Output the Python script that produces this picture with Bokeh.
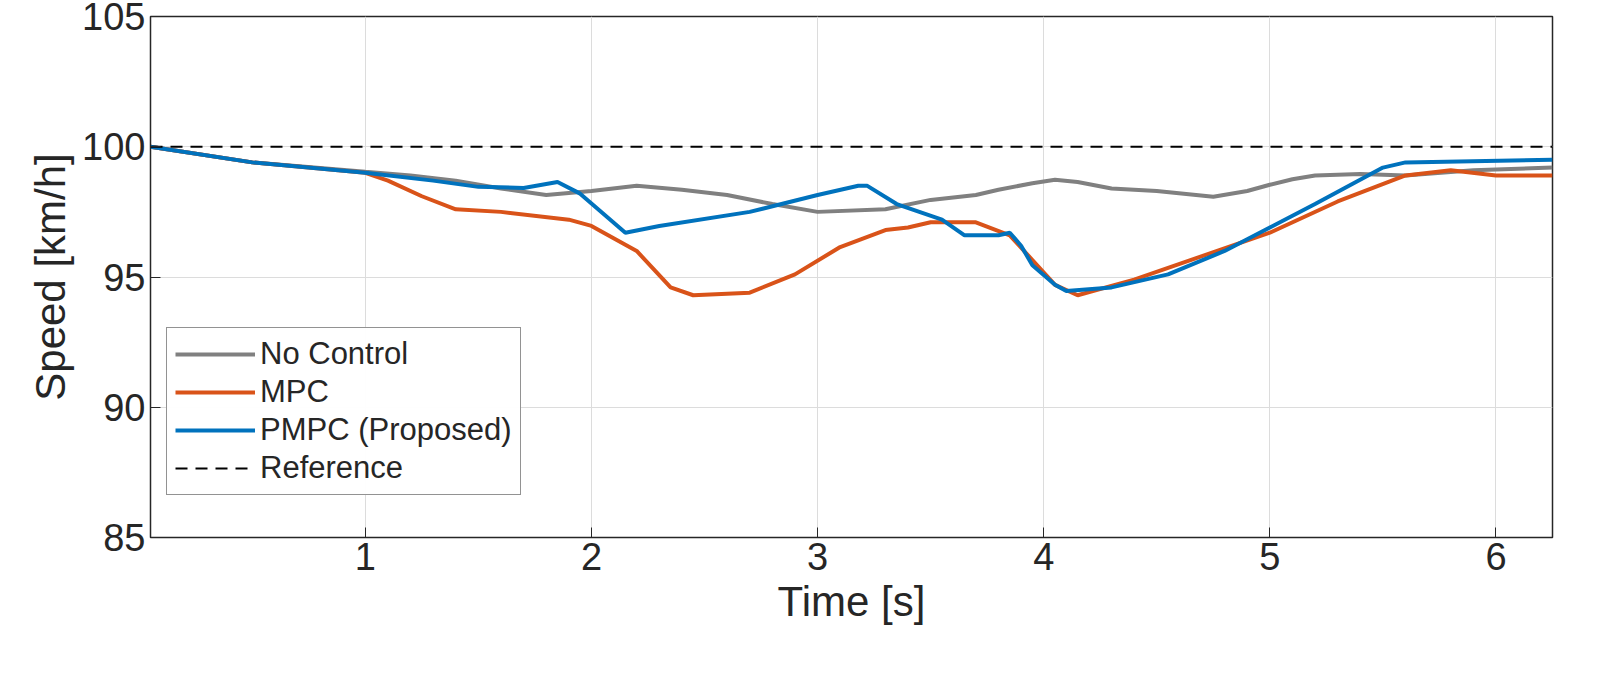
from bokeh.plotting import figure
from bokeh.embed import file_html
from bokeh.resources import INLINE
from bokeh.models import Range1d, Legend, LegendItem, FixedTicker

nc_t = [0.05,0.5,1.0,1.2,1.4,1.6,1.8,2.0,2.2,2.4,2.6,2.8,3.0,3.3,3.5,3.7,3.8,3.95,4.05,4.15,4.3,4.5,4.75,4.9,5.0,5.1,5.2,5.4,5.6,5.9,6.25]
nc_v = [100.0,99.4,99.04,98.9,98.7,98.4,98.15,98.3,98.5,98.35,98.15,97.8,97.5,97.6,97.96,98.15,98.35,98.6,98.73,98.65,98.4,98.3,98.08,98.3,98.54,98.75,98.9,98.95,98.9,99.1,99.2]
mpc_t = [0.05,0.5,1.0,1.1,1.25,1.4,1.6,1.9,2.0,2.2,2.35,2.45,2.7,2.9,3.1,3.3,3.4,3.5,3.7,3.85,3.95,4.05,4.15,4.4,4.7,5.0,5.3,5.6,5.8,6.0,6.25]
mpc_v = [100.0,99.4,99.0,98.7,98.1,97.6,97.5,97.2,96.96,96.0,94.6,94.3,94.4,95.1,96.15,96.8,96.9,97.1,97.1,96.6,95.65,94.7,94.3,94.9,95.8,96.7,97.9,98.9,99.1,98.9,98.9]
pm_t = [0.05,0.5,1.0,1.3,1.5,1.7,1.85,1.95,2.15,2.3,2.7,3.0,3.18,3.22,3.35,3.55,3.65,3.8,3.85,3.9,3.95,4.05,4.1,4.3,4.55,4.8,5.0,5.2,5.35,5.5,5.6,6.25]
pm_v = [100.0,99.4,99.0,98.7,98.46,98.42,98.65,98.2,96.7,96.96,97.5,98.15,98.5,98.5,97.8,97.2,96.6,96.6,96.7,96.2,95.45,94.7,94.46,94.6,95.1,96.0,96.9,97.8,98.5,99.2,99.4,99.5]
ref_t = [0.05, 6.25]
ref_v = [100.0, 100.0]

F = "Liberation Sans"
p = figure(width=1570, height=668, output_backend="svg", toolbar_location=None,
           x_range=Range1d(0.05, 6.25), y_range=Range1d(85, 105),
           min_border_left=150, min_border_right=18, min_border_top=16, min_border_bottom=131)
p.xaxis.ticker = FixedTicker(ticks=[1,2,3,4,5,6])
p.yaxis.ticker = FixedTicker(ticks=[85,90,95,100,105])
for ax in (p.xaxis, p.yaxis):
    ax.major_label_text_font = F
    ax.major_label_text_font_size = "38px"
    ax.major_label_text_color = "#262626"
    ax.axis_label_text_font = F
    ax.axis_label_text_font_size = "42px"
    ax.axis_label_text_font_style = "normal"
    ax.axis_label_text_color = "#262626"
    ax.major_tick_in = 10
    ax.major_tick_out = 0
    ax.minor_tick_line_color = None
    ax.axis_line_color = "#262626"
    ax.major_tick_line_color = "#262626"
p.xaxis.axis_label = "Time [s]"
p.yaxis.axis_label = "Speed [km/h]"
p.outline_line_color = "#262626"
p.outline_line_width = 1.5
p.grid.grid_line_color = "#dcdcdc"

r1 = p.line(nc_t, nc_v, line_color="#808080", line_width=4)
r2 = p.line(mpc_t, mpc_v, line_color="#D95319", line_width=4)
r3 = p.line(pm_t, pm_v, line_color="#0072BD", line_width=4)
r4 = p.line(ref_t, ref_v, line_color="black", line_width=2, line_dash="12 8")

leg = Legend(items=[LegendItem(label="No Control", renderers=[r1]),
                    LegendItem(label="MPC", renderers=[r2]),
                    LegendItem(label="PMPC (Proposed)", renderers=[r3]),
                    LegendItem(label="Reference", renderers=[r4])],
             location=(16, 42), label_text_font=F, label_text_font_size="31px",
             label_text_color="#262626", glyph_width=80, spacing=2, label_height=32,
             border_line_color="#262626", border_line_width=1.5, padding=8, margin=0)
p.add_layout(leg, "center")

open("out.html", "w").write(file_html(p, INLINE))
